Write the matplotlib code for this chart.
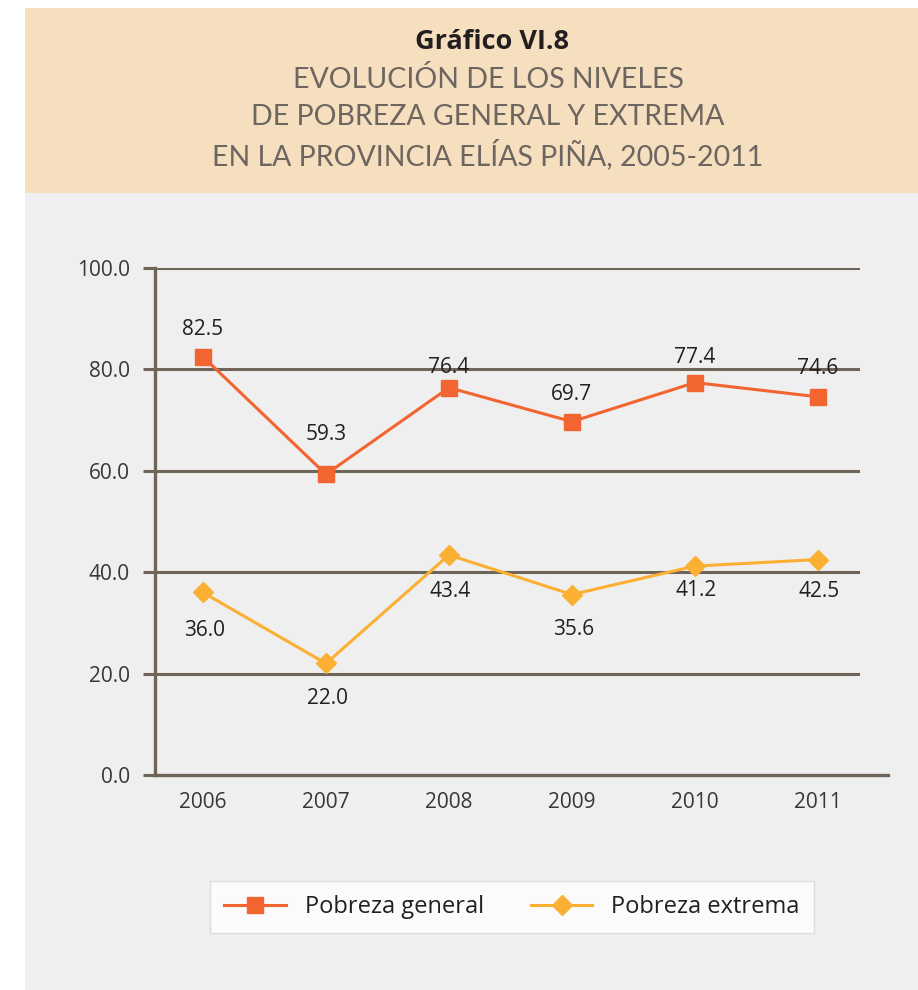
import matplotlib.pyplot as plt
from matplotlib.patches import Rectangle

years = ["2006", "2007", "2008", "2009", "2010", "2011"]
pobreza_general = [82.5, 59.3, 76.4, 69.7, 77.4, 74.6]
pobreza_extrema = [36.0, 22.0, 43.4, 35.6, 41.2, 42.5]
y_ticks = [0, 20, 40, 60, 80, 100]

# label offsets in pixels
off_general = [27, 40, 20, 27, 25, 28]
off_extrema = [-38, -35, -37, -35, -24, -32]

orange = "#f26531"
yellow = "#fbb034"
axis_col = "#6e6458"
text_col = "#231f20"

plt.rcParams["font.family"] = ["Open Sans", "DejaVu Sans"]

fig = plt.figure(figsize=(9.18, 9.9), dpi=100)
fig.patch.set_facecolor("white")

# panel backgrounds
fig.patches.append(Rectangle((25 / 918, 0), 1, 1 - 193 / 990, transform=fig.transFigure,
                             facecolor="#efefef", edgecolor="none", zorder=-2))
fig.patches.append(Rectangle((25 / 918, 1 - 193 / 990), 1, (193 - 8) / 990, transform=fig.transFigure,
                             facecolor="#f6dfbf", edgecolor="none", zorder=-2))

fig.text(492 / 918, 1 - 42 / 990, "Gráfico VI.8", ha="center", va="center", fontsize=19.5,
         fontweight="bold", color=text_col)
sub = ["EVOLUCIÓN DE LOS NIVELES", "DE POBREZA GENERAL Y EXTREMA",
       "EN LA PROVINCIA ELÍAS PIÑA, 2005-2011"]
for i, line in enumerate(sub):
    fig.text(488 / 918, 1 - (79 + 38 * i) / 990, line, ha="center", va="center", fontsize=20.5,
             color="#6d655f", family=["Lato", "DejaVu Sans"])

ax = fig.add_axes([155 / 918, 1 - 775 / 990, (888 - 155) / 918, (775 - 268) / 990])
ax.set_facecolor("none")
x = list(range(len(years)))

for yv in y_ticks[1:]:
    ax.axhline(yv, xmin=0, xmax=0.959, color=axis_col, lw=2.2, zorder=1)

ax.plot(x, pobreza_general, color=orange, lw=2.2, marker="s", ms=11, zorder=3,
        label="Pobreza general")
ax.plot(x, pobreza_extrema, color=yellow, lw=2.2, marker="D", ms=10, zorder=3,
        label="Pobreza extrema")

for xi, v, o in zip(x, pobreza_general, off_general):
    ax.annotate(f"{v:.1f}", (xi, v), xytext=(0, o * 0.72), textcoords="offset points",
                ha="center", va="center", fontsize=15, color=text_col)
for xi, v, o in zip(x, pobreza_extrema, off_extrema):
    ax.annotate(f"{v:.1f}", (xi, v), xytext=(1, o * 0.72), textcoords="offset points",
                ha="center", va="center", fontsize=15, color=text_col)

ax.set_xlim(-0.39, 5.57)
ax.set_ylim(0, 100)
ax.set_xticks(x)
ax.set_xticklabels(years)
ax.set_yticks(y_ticks)
ax.set_yticklabels([f"{t:.1f}" for t in y_ticks])
ax.tick_params(axis="y", length=9, width=2.2, color=axis_col, labelsize=15,
               labelcolor="#3a3536", pad=9)
ax.tick_params(axis="x", length=0, labelsize=15, labelcolor="#3a3536", pad=12)
for s in ["top", "right"]:
    ax.spines[s].set_visible(False)
for s in ["left", "bottom"]:
    ax.spines[s].set_color(axis_col)
    ax.spines[s].set_linewidth(2.4)

leg = fig.legend(loc="center", bbox_to_anchor=(512 / 918, 1 - 907 / 990), ncol=2,
                 fontsize=17, frameon=True, fancybox=False, handlelength=2.6,
                 columnspacing=2.0, borderpad=0.6, borderaxespad=0)
leg.get_frame().set_facecolor("white")
leg.get_frame().set_edgecolor("#d8d8d8")
for t in leg.get_texts():
    t.set_color(text_col)

fig.savefig("out.png", dpi=100)
